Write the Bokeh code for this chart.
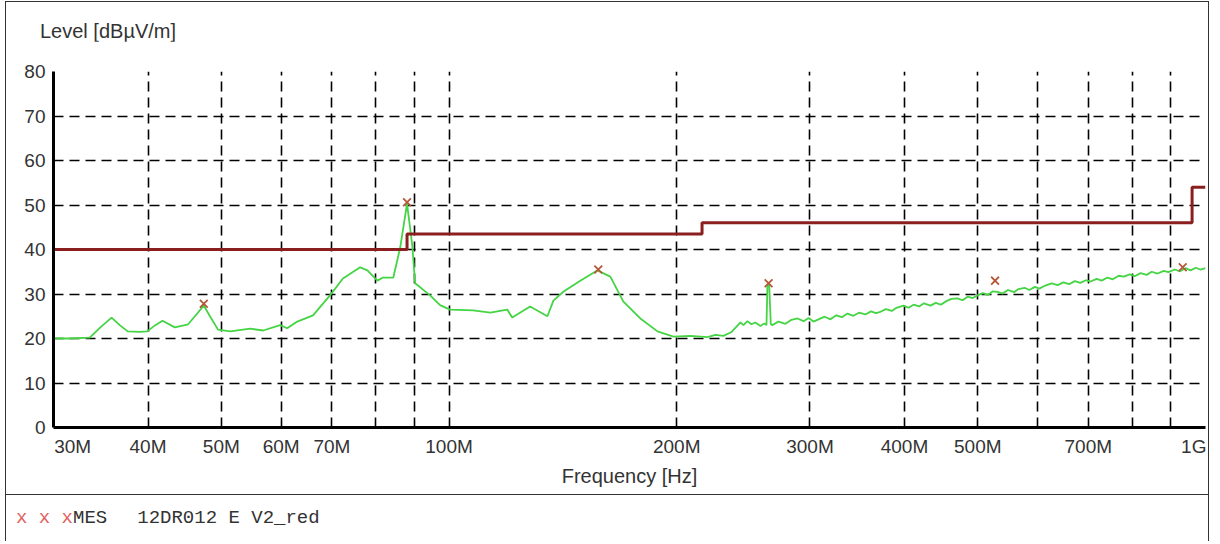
from bokeh.plotting import figure
from bokeh.models import FixedTicker, Div
from bokeh.layouts import column
from bokeh.embed import file_html
from bokeh.resources import INLINE

# ---------------- data (frequency in MHz, level in dBuV/m) ----------------
trace_f = [30, 31.5, 33.5, 34.6, 35.8, 36.7, 37.6, 39.0, 39.9, 40.9, 41.8, 43.4,
           45.2, 46.4, 47.4, 48.3, 49.5, 51.4, 54.6, 56.8, 59.8, 61.1, 63.0, 66.1,
           69.6, 72.4, 76.3, 78.0, 80.4, 81.8, 84.4, 86.2, 88.0, 89.4, 90.2, 94.4,
           97.3, 100.3, 107.6, 113.4, 119.4, 121.2, 128.0, 134.9, 137.4, 141.6,
           149.1, 157.0, 163.4, 170.0, 179.0, 188.6, 198.0, 208.5, 219.6, 225.0,
           230.5, 236.0, 242.8, 245.0, 248.0, 251.0, 254.0, 258.0, 261.0, 262.8,
           263.6, 265.0, 266.3, 267.6, 272.6, 278.4, 283.6, 288.8, 294.2, 298.8,
           303.2, 308.9, 313.8, 319.3, 325.0, 330.6, 336.3, 342.4, 348.2, 355.2,
           361.2, 366.7, 371.8, 378.0, 384.9, 390.4, 398.8, 405.0, 411.3, 418.3,
           424.4, 432.9, 440.0, 446.8, 454.4, 461.5, 470.0, 477.4, 484.7, 492.3,
           499.7, 507.7, 515.5, 523.5, 530.9, 539.5, 548.0, 558.5, 566.0, 576.5,
           585.0, 595.0, 603.0, 614.0, 626.0, 637.5, 649.0, 660.0, 672.0, 683.0,
           695.0, 704.9, 718.0, 729.0, 742.0, 754.0, 768.0, 779.6, 794.0, 806.0,
           820.9, 836.0, 849.0, 864.4, 881.0, 893.0, 911.0, 925.0, 941.0, 955.6,
           971.0, 984.0, 1000]
trace_db = [20.0, 20.0, 20.2, 22.5, 24.7, 23.0, 21.6, 21.5, 21.6, 23.0, 24.0, 22.5,
            23.2, 25.5, 27.4, 25.0, 22.0, 21.6, 22.2, 21.8, 23.0, 22.3, 23.8, 25.2,
            29.7, 33.5, 36.0, 35.3, 33.0, 33.7, 33.7, 40.5, 50.3, 41.0, 32.4, 29.7,
            27.5, 26.5, 26.3, 25.8, 26.5, 24.7, 27.2, 25.0, 28.5, 30.5,
            33.0, 35.3, 33.9, 28.3, 24.5, 21.6, 20.4, 20.6, 20.3, 20.8,
            20.6, 21.4, 23.6, 23.0, 23.9, 23.2, 23.6, 22.8, 23.4, 23.0,
            32.2, 32.0, 23.2, 23.0, 23.8, 23.3, 24.2, 24.5, 23.9, 24.6,
            23.8, 24.4, 24.9, 24.3, 25.2, 24.8, 25.6, 25.1, 25.8, 25.4,
            26.1, 25.7, 26.0, 26.6, 26.2, 26.9, 27.4, 26.9, 27.6, 27.2,
            27.9, 27.4, 28.0, 27.6, 28.4, 28.9, 29.0, 28.6, 29.4, 29.1,
            29.7, 30.2, 29.8, 30.6, 30.5, 30.1, 30.9, 30.4, 31.1, 31.4,
            30.9, 31.6, 31.2, 31.9, 32.4, 32.0, 32.6, 32.2, 32.9, 32.5,
            33.1, 32.8, 33.4, 33.0, 33.7, 33.3, 34.1, 33.9, 34.4, 34.0,
            34.7, 34.3, 35.0, 34.6, 35.2, 34.9, 35.5, 35.1, 35.8, 35.3,
            35.9, 35.5, 35.8]

limit_f = [30, 88, 216, 960, 1000]
limit_db = [40, 43.5, 46, 54, 54]

peak_f = [47.4, 88.0, 157.5, 264.5, 527.0, 933.0]
peak_db = [27.8, 50.6, 35.5, 32.4, 33.0, 36.0]

y_ticks = [0, 10, 20, 30, 40, 50, 60, 70, 80]
x_grid = [40, 50, 60, 70, 80, 90, 100, 200, 300, 400, 500, 600, 700, 800, 900, 1000]
x_label_pos = [31.8, 40, 50, 60, 70, 100, 200, 300, 400, 500, 700, 965]
x_label_txt = ["30M", "40M", "50M", "60M", "70M", "100M", "200M", "300M",
               "400M", "500M", "700M", "1G"]
y_title = "Level [dBµV/m]"
x_title = "Frequency [Hz]"
legend_marks = "x x x"
legend_name = "MES"
legend_rest = "12DR012 E V2_red"

FONT = "Liberation Sans"
TXT = "#333333"
BORDER = "1px solid #333"

# ---------------- title strip (y-axis caption) ----------------
title_html = (
    '<div style="font-family:\'Liberation Sans\',sans-serif;font-size:20px;'
    'line-height:24px;white-space:pre;padding:17px 0 0 34px;color:#333;">'
    + y_title + '</div>'
)
td = Div(text=title_html, width=1204, height=40, margin=(0, 0, 0, 0),
         styles={"border-left": BORDER, "border-right": BORDER,
                 "border-top": BORDER, "box-sizing": "border-box",
                 "background": "white"})

# ---------------- main chart ----------------
p = figure(width=1204, height=454, x_axis_type="log", x_range=(30, 1000),
           y_range=(0, 80), output_backend="svg", toolbar_location=None,
           min_border_left=47, min_border_right=5, min_border_top=30,
           min_border_bottom=68)
p.outline_line_color = None
p.background_fill_color = "white"
p.border_fill_color = "white"

for ax in (p.xaxis[0], p.yaxis[0]):
    ax.axis_line_width = 3
    ax.axis_line_color = "black"
    ax.major_tick_out = 0
    ax.major_tick_in = 0
    ax.minor_tick_out = 0
    ax.minor_tick_in = 0
    ax.major_label_text_font = FONT
    ax.major_label_text_font_size = "19px"
    ax.major_label_text_color = TXT

p.yaxis.ticker = FixedTicker(ticks=y_ticks)
p.yaxis.major_label_standoff = 8
p.xaxis.ticker = FixedTicker(ticks=x_label_pos)
p.xaxis.major_label_overrides = {pos: lab for pos, lab in zip(x_label_pos, x_label_txt)}
p.xaxis.major_label_standoff = 8
p.xaxis.axis_label = x_title
p.xaxis.axis_label_text_font = FONT
p.xaxis.axis_label_text_font_size = "20px"
p.xaxis.axis_label_text_font_style = "normal"
p.xaxis.axis_label_text_color = TXT
p.xaxis.axis_label_standoff = 5

p.xgrid.ticker = FixedTicker(ticks=x_grid)
p.ygrid.ticker = FixedTicker(ticks=y_ticks[1:])
for g in (p.xgrid[0], p.ygrid[0]):
    g.grid_line_color = "black"
    g.grid_line_dash = "10 6"
    g.grid_line_width = 1.6

p.line(trace_f, trace_db, line_color="#44d444", line_width=1.8)
p.step(limit_f, limit_db, mode="after", line_color="#8b1e1e", line_width=3)
p.scatter(peak_f, peak_db, marker="x", size=11, line_color="#b5583a", line_width=1.8)

p.styles = {"border-left": BORDER, "border-right": BORDER,
            "border-bottom": BORDER}

# ---------------- legend strip ----------------
legend_html = (
    '<div style="font-family:\'Liberation Mono\',monospace;font-size:19px;'
    'line-height:22px;white-space:pre;padding:12px 0 0 10px;color:#333;">'
    '<span style="color:#e06060;">' + legend_marks + '</span>'
    + legend_name + '<span style="margin-left:30px;">' + legend_rest
    + '</span></div>'
)
lg = Div(text=legend_html, width=1204, height=46, margin=(0, 0, 0, 0),
         styles={"border-left": BORDER, "border-right": BORDER,
                 "box-sizing": "border-box", "background": "white"})

layout = column(td, p, lg, spacing=0, margin=(1, 0, 0, 5))
open("out.html", "w").write(file_html(layout, INLINE))
